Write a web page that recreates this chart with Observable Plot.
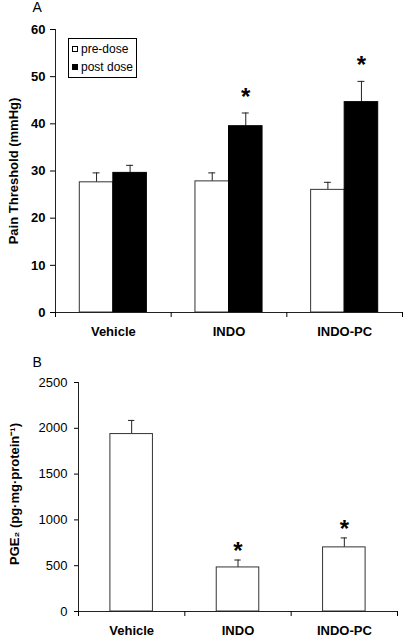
<!DOCTYPE html>
<html>
<head>
<meta charset="utf-8">
<script src="https://cdn.jsdelivr.net/npm/d3@7"></script>
<script src="https://cdn.jsdelivr.net/npm/@observablehq/plot@0.6"></script>
<style>
  html, body { margin: 0; padding: 0; background: #fff; }
  #wrap { position: relative; width: 403px; height: 639px; font-family: "Liberation Sans", Arial, sans-serif; }
  #wrap svg { display: block; }
  .legend { position: absolute; left: 68px; top: 38px; padding: 1px 3px 1px 3px; border: 1px solid #000; background: #fff; font-size: 12px; font-family: "Liberation Sans", Arial, sans-serif; }
  .legend .row { display: flex; align-items: center; height: 18px; white-space: nowrap; }
  .legend .sw { width: 4px; height: 4px; border: 1px solid #000; margin-right: 3px; }
</style>
</head>
<body>
<div id="wrap"></div>
<script>
const categories = ["Vehicle", "INDO", "INDO-PC"];
const preDose = [27.6, 27.8, 26.0];
const preDoseErr = [2.0, 1.8, 1.6];
const postDose = [29.6, 39.5, 44.6];
const postDoseErr = [1.6, 2.8, 4.4];
const postSig = [false, true, true];
const seriesNames = ["pre-dose", "post dose"];
const yTicksA = [0, 10, 20, 30, 40, 50, 60];

const pge2 = [1937, 481, 700];
const pge2Err = [149, 81, 103];
const pge2Sig = [false, true, true];
const yTicksB = [0, 500, 1000, 1500, 2000, 2500];

const font = "Liberation Sans, Arial, sans-serif";
const wrap = document.getElementById("wrap");

// ---- Panel A ----
const rowsA = categories.map((c, i) => ({
  i, c, pre: preDose[i], preErr: preDoseErr[i], post: postDose[i], postErr: postDoseErr[i], sig: postSig[i]
}));
const bw = 0.29, cap = 0.03;
const chartA = Plot.plot({
  width: 403, height: 345,
  marginLeft: 55, marginRight: 1, marginTop: 29, marginBottom: 33,
  style: { fontFamily: font, fontSize: "13px", color: "#000", background: "transparent" },
  x: { type: "linear", domain: [-0.5, 2.5] },
  y: { domain: [0, 60] },
  marks: [
    Plot.ruleX(rowsA, { x: d => d.i - bw / 2, y1: "pre", y2: d => d.pre + d.preErr, stroke: "#222" }),
    Plot.ruleY(rowsA, { x1: d => d.i - bw / 2 - cap, x2: d => d.i - bw / 2 + cap, y: d => d.pre + d.preErr, stroke: "#222" }),
    Plot.ruleX(rowsA, { x: d => d.i + bw / 2, y1: "post", y2: d => d.post + d.postErr, stroke: "#222" }),
    Plot.ruleY(rowsA, { x1: d => d.i + bw / 2 - cap, x2: d => d.i + bw / 2 + cap, y: d => d.post + d.postErr, stroke: "#222" }),
    Plot.rect(rowsA, { x1: d => d.i - bw, x2: d => d.i, y1: 0, y2: "pre", fill: "#fff", stroke: "#333" }),
    Plot.rect(rowsA, { x1: d => d.i, x2: d => d.i + bw, y1: 0, y2: "post", fill: "#000", stroke: "#000" }),
    Plot.text(rowsA.filter(d => d.sig), { x: d => d.i + bw / 2, y: d => d.post + d.postErr, text: () => "*", fontSize: 24, fontWeight: "bold", dy: -16 }),
    Plot.ruleY([0], { stroke: "#222" }),
    Plot.ruleX([-0.5], { stroke: "#222" }),
    Plot.axisY({ ticks: yTicksA, tickSize: 5, tickPadding: 5, fontWeight: "bold", label: null }),
    Plot.axisX({ ticks: [-0.5, 0.5, 1.5, 2.5], tickSize: 5, tickFormat: () => "", label: null }),
    Plot.axisX({ ticks: [0, 1, 2], tickSize: 0, tickPadding: 14, tickFormat: i => categories[i], fontWeight: "bold", label: null }),
    Plot.text(["Pain Threshold (mmHg)"], { frameAnchor: "left", textAnchor: "middle", dx: -42, rotate: -90, fontWeight: "bold", fontSize: 13 }),
    Plot.text(["A"], { frameAnchor: "top-left", dx: -23, dy: -27, fontSize: 14 })
  ]
});
wrap.appendChild(chartA);

// legend
const legend = document.createElement("div");
legend.className = "legend";
seriesNames.forEach((name, k) => {
  const row = document.createElement("div");
  row.className = "row";
  const sw = document.createElement("span");
  sw.className = "sw";
  sw.style.background = k === 0 ? "#fff" : "#000";
  const t = document.createElement("span");
  t.textContent = name;
  row.appendChild(sw); row.appendChild(t);
  legend.appendChild(row);
});
wrap.appendChild(legend);

// ---- Panel B ----
const rowsB = categories.map((c, i) => ({ i, c, v: pge2[i], err: pge2Err[i], sig: pge2Sig[i] }));
const bwB = 0.2;
const chartB = Plot.plot({
  width: 403, height: 294,
  marginLeft: 78, marginRight: 6, marginTop: 37, marginBottom: 28,
  style: { fontFamily: font, fontSize: "13px", color: "#000", background: "transparent" },
  x: { type: "linear", domain: [-0.5, 2.5] },
  y: { domain: [0, 2500] },
  marks: [
    Plot.ruleX(rowsB, { x: "i", y1: "v", y2: d => d.v + d.err, stroke: "#222" }),
    Plot.ruleY(rowsB, { x1: d => d.i - cap, x2: d => d.i + cap, y: d => d.v + d.err, stroke: "#222" }),
    Plot.rect(rowsB, { x1: d => d.i - bwB, x2: d => d.i + bwB, y1: 0, y2: "v", fill: "#fff", stroke: "#333" }),
    Plot.text(rowsB.filter(d => d.sig), { x: "i", y: d => d.v + d.err, text: () => "*", fontSize: 24, fontWeight: "bold", dy: -9 }),
    Plot.ruleY([0], { stroke: "#222" }),
    Plot.ruleX([-0.5], { stroke: "#222" }),
    Plot.axisY({ ticks: yTicksB, tickSize: 4, tickPadding: 7, tickFormat: d => String(d), label: null }),
    Plot.axisX({ ticks: [-0.5, 0.5, 1.5, 2.5], tickSize: 5, tickFormat: () => "", label: null }),
    Plot.axisX({ ticks: [0, 1, 2], tickSize: 0, tickPadding: 14, tickFormat: i => categories[i], fontWeight: "bold", label: null }),
    Plot.text(["PGE₂ (pg·mg·protein⁻¹)"], { frameAnchor: "left", textAnchor: "middle", dx: -64, dy: -3, rotate: -90, fontWeight: "bold", fontSize: 13 }),
    Plot.text(["B"], { frameAnchor: "top-left", dx: -46, dy: -25, fontSize: 14 })
  ]
});
wrap.appendChild(chartB);
</script>
</body>
</html>
